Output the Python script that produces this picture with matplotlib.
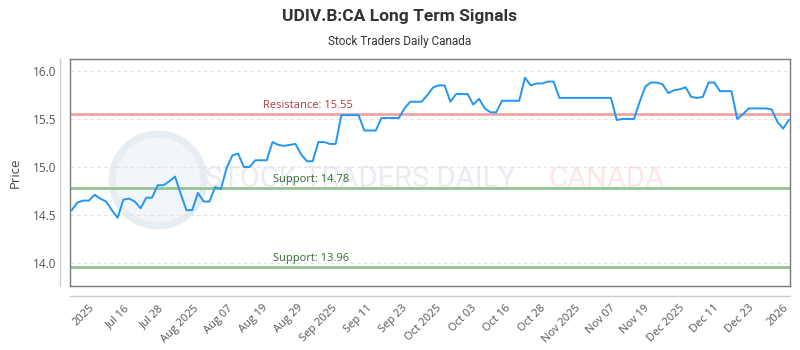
import matplotlib
matplotlib.use("Agg")
import matplotlib.pyplot as plt
import numpy as np
from matplotlib.lines import Line2D
from matplotlib.patches import Ellipse
from matplotlib.transforms import blended_transform_factory

# ---- data ----
prices = [
    14.55, 14.63, 14.65, 14.65, 14.71, 14.67, 14.64, 14.55, 14.47, 14.66,
    14.67, 14.64, 14.57, 14.68, 14.68, 14.81, 14.81, 14.85, 14.90, 14.72,
    14.55, 14.55, 14.73, 14.64, 14.64, 14.79, 14.77, 14.99, 15.12, 15.14,
    15.00, 15.00, 15.07, 15.07, 15.07, 15.26, 15.23, 15.22, 15.23, 15.24,
    15.13, 15.06, 15.06, 15.26, 15.26, 15.24, 15.24, 15.54, 15.54, 15.54,
    15.54, 15.38, 15.38, 15.38, 15.51, 15.51, 15.51, 15.51, 15.61, 15.68,
    15.68, 15.68, 15.75, 15.83, 15.85, 15.85, 15.68, 15.76, 15.76, 15.76,
    15.65, 15.71, 15.61, 15.57, 15.57, 15.69, 15.69, 15.69, 15.69, 15.93,
    15.85, 15.87, 15.87, 15.89, 15.89, 15.72, 15.72, 15.72, 15.72, 15.72,
    15.72, 15.72, 15.72, 15.72, 15.72, 15.49, 15.50, 15.50, 15.50, 15.68,
    15.84, 15.88, 15.88, 15.86, 15.77, 15.80, 15.81, 15.83, 15.73, 15.72,
    15.73, 15.88, 15.88, 15.79, 15.79, 15.79, 15.50, 15.55, 15.61, 15.61,
    15.61, 15.61, 15.60, 15.47, 15.40, 15.49,
]
tick_labels = ["2025", "Jul 16", "Jul 28", "Aug 2025", "Aug 07", "Aug 19", "Aug 29",
               "Sep 2025", "Sep 11", "Sep 23", "Oct 2025", "Oct 03", "Oct 16", "Oct 28",
               "Nov 2025", "Nov 07", "Nov 19", "Dec 2025", "Dec 11", "Dec 23", "2026"]
resistance = 15.55
supports = [14.78, 13.96]
title = "UDIV.B:CA Long Term Signals"
subtitle = "Stock Traders Daily Canada"

# ---- figure ----
W, H = 800, 350
fig = plt.figure(figsize=(8, 3.5), dpi=100)
fig.patch.set_facecolor("white")
L, R, T, B = 70, 790, 59, 286
AW, AH = R - L, B - T
ax = fig.add_axes([L / W, 1 - B / H, AW / W, AH / H])

x = np.arange(len(prices))
ax.set_xlim(-0.3, len(prices) - 1 + 0.2)
ax.set_ylim(13.76, 16.125)

# watermark (circle logo + text)
cx, cy, rad = 158, 180, 46
ax.add_patch(Ellipse(((cx - L) / AW, (B - cy) / AH), 2 * rad / AW, 2 * rad / AH,
                     transform=ax.transAxes, facecolor="#f2f5f9", edgecolor="#e8edf3",
                     lw=5, zorder=0.5))
ax.text((205 - L) / AW, 0.47, "STOCK TRADERS DAILY", transform=ax.transAxes, fontsize=21,
        color="#e9edf3", family=["Roboto", "DejaVu Sans"], ha="left", va="center", zorder=0.6)
ax.text((548 - L) / AW, 0.47, "CANADA", transform=ax.transAxes, fontsize=21,
        color="#fde6e6", family=["Roboto", "DejaVu Sans"], ha="left", va="center", zorder=0.6)

# grid
for yv in [14.0, 14.5, 15.0, 15.5, 16.0]:
    ax.axhline(yv, color="#e2e2e2", lw=0.8, ls=(0, (3, 3)), zorder=1)

# signal lines
ax.axhline(resistance, color="#f2a4a4", lw=2, zorder=2)
for s in supports:
    ax.axhline(s, color="#93c493", lw=2, zorder=2)

tr = blended_transform_factory(ax.transAxes, ax.transData)
ax.annotate(f"Resistance: {resistance:.2f}", xy=(0.33, resistance), xycoords=tr,
            xytext=(0, 2), textcoords="offset points", ha="center", va="bottom",
            fontsize=8, color="#b33a3a", family=["Open Sans", "DejaVu Sans"], zorder=3)
for s in supports:
    ax.annotate(f"Support: {s:.2f}", xy=(0.335, s), xycoords=tr,
                xytext=(0, 2), textcoords="offset points", ha="center", va="bottom",
                fontsize=8, color="#2f6b2f", family=["Open Sans", "DejaVu Sans"], zorder=3)

# price line
ax.plot(x, prices, color="#2196f3", lw=1.4, zorder=4)

# axes styling
for sp in ax.spines.values():
    sp.set_color("#7a7a7a")
    sp.set_linewidth(1)
ax.set_yticks([14.0, 14.5, 15.0, 15.5, 16.0])
ax.set_yticklabels(["14.0", "14.5", "15.0", "15.5", "16.0"])
tick_pos = np.linspace(3, 124, len(tick_labels))
ax.set_xticks(tick_pos)
ax.set_xticklabels(tick_labels, rotation=45, ha="right", rotation_mode="anchor")
ax.tick_params(axis="y", length=0, pad=10, labelsize=8.5, labelcolor="#555555")
ax.tick_params(axis="x", length=0, pad=12, labelsize=8, labelcolor="#555555")
for lab in ax.get_xticklabels() + ax.get_yticklabels():
    lab.set_family(["Open Sans", "DejaVu Sans"])
ax.set_ylabel("Price", fontsize=9.5, color="#444444", family=["Open Sans", "DejaVu Sans"])
ax.yaxis.set_label_coords((22 - L) / AW, 0.5)

# offset axis lines
fig.add_artist(Line2D([60 / W, 60 / W], [1 - T / H, 1 - B / H], color="#cccccc", lw=1,
                      transform=fig.transFigure))
fig.add_artist(Line2D([L / W, R / W], [1 - 296 / H, 1 - 296 / H], color="#cccccc", lw=1,
                      transform=fig.transFigure))

# titles
fig.text(0.5, 1 - 16 / H, title, ha="center", va="center", fontsize=12.5, weight="bold",
         color="#333333", family=["Liberation Sans Narrow", "Roboto", "DejaVu Sans"])
fig.text(0.5, 1 - 41 / H, subtitle, ha="center", va="center", fontsize=8.5,
         color="#333333", family=["Liberation Sans Narrow", "Roboto", "DejaVu Sans"])

fig.savefig("out.png", dpi=100)
